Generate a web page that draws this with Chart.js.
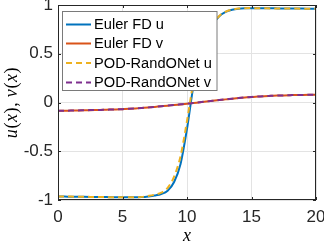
<!DOCTYPE html>
<html>
<head>
<meta charset="utf-8">
<script src="https://cdn.jsdelivr.net/npm/chart.js@4"></script>
<style>
  html, body { margin: 0; padding: 0; background: #ffffff; }
  #wrap { width: 324px; height: 243px; }
</style>
</head>
<body>
<div id="wrap"><canvas id="courbe" width="324" height="243"></canvas></div>
<script>
// x grid of the solution
const xs = [0, 0.5, 1, 1.5, 2, 2.5, 3, 3.5, 4, 4.5, 5, 5.5, 6, 6.5, 7, 7.5, 8, 8.5, 9, 9.5,
            10, 10.5, 11, 11.5, 12, 12.5, 13, 13.5, 14, 14.5, 15, 15.5, 16, 16.5, 17, 17.5, 18, 18.5, 19, 19.5, 20];

const eulerU = [-0.965, -0.965, -0.966, -0.966, -0.967, -0.968, -0.969, -0.970, -0.971, -0.972, -0.972, -0.973, -0.973, -0.970, -0.963, -0.953, -0.938, -0.905, -0.815, -0.63,
                -0.27, 0.17, 0.46, 0.66, 0.80, 0.885, 0.93, 0.952, 0.962, 0.966, 0.967, 0.967, 0.966, 0.966, 0.965, 0.964, 0.964, 0.963, 0.963, 0.962, 0.962];
const eulerV = [-0.086, -0.085, -0.083, -0.082, -0.080, -0.079, -0.077, -0.075, -0.073, -0.071, -0.068, -0.065, -0.061, -0.056, -0.051, -0.045, -0.039, -0.033, -0.026, -0.020,
                -0.013, -0.005, 0.002, 0.010, 0.018, 0.025, 0.032, 0.039, 0.045, 0.051, 0.057, 0.061, 0.065, 0.068, 0.071, 0.073, 0.075, 0.077, 0.078, 0.079, 0.080];
const podU = [-0.963, -0.964, -0.965, -0.966, -0.967, -0.968, -0.969, -0.970, -0.971, -0.971, -0.972, -0.972, -0.972, -0.968, -0.958, -0.945, -0.925, -0.875, -0.76, -0.55,
              -0.19, 0.21, 0.47, 0.665, 0.805, 0.888, 0.932, 0.953, 0.963, 0.967, 0.968, 0.967, 0.966, 0.965, 0.965, 0.964, 0.963, 0.963, 0.962, 0.962, 0.961];
const podV = [-0.085, -0.084, -0.083, -0.081, -0.080, -0.078, -0.077, -0.075, -0.073, -0.070, -0.068, -0.064, -0.060, -0.056, -0.050, -0.045, -0.039, -0.032, -0.026, -0.019,
              -0.012, -0.005, 0.003, 0.010, 0.018, 0.026, 0.033, 0.039, 0.046, 0.052, 0.057, 0.061, 0.065, 0.068, 0.071, 0.073, 0.075, 0.077, 0.078, 0.079, 0.081];

const labels = ['Euler FD u', 'Euler FD v', 'POD-RandONet u', 'POD-RandONet v'];
const xTicks = [0, 5, 10, 15, 20];
const yTicks = [-1, -0.5, 0, 0.5, 1];

const AXIS = '#262626';
const SANS = '"Liberation Sans", Arial, sans-serif';
const tickFont = { family: SANS, size: 17 };

function pts(values) {
    return xs.map((x, i) => ({ x: x, y: values[i] }));
}

function serie(label, values, color, dashed, order) {
    return {
        label: label,
        data: pts(values),
        borderColor: color,
        backgroundColor: color,
        borderWidth: 2,
        borderDash: dashed ? [6, 4] : [],
        pointRadius: 0,
        fill: false,
        cubicInterpolationMode: 'monotone',
        order: order
    };
}

// box, inward ticks, axis titles, legend (matlab style)
const matlabDecor = {
    id: 'matlabDecor',
    afterDatasetsDraw(chart) {
        const ctx = chart.ctx;
        const a = chart.chartArea;
        const sx = chart.scales.x;
        const sy = chart.scales.y;

        ctx.save();
        ctx.strokeStyle = AXIS;
        ctx.lineWidth = 1;
        ctx.strokeRect(Math.round(a.left) + 0.5, Math.round(a.top) + 0.5,
                       Math.round(a.right - a.left) - 1, Math.round(a.bottom - a.top) - 1);
        ctx.beginPath();
        xTicks.forEach(v => {
            const px = Math.round(sx.getPixelForValue(v)) + 0.5;
            ctx.moveTo(px, a.bottom); ctx.lineTo(px, a.bottom - 3);
            ctx.moveTo(px, a.top); ctx.lineTo(px, a.top + 3);
        });
        yTicks.forEach(v => {
            const py = Math.round(sy.getPixelForValue(v)) + 0.5;
            ctx.moveTo(a.left, py); ctx.lineTo(a.left + 3, py);
            ctx.moveTo(a.right, py); ctx.lineTo(a.right - 3, py);
        });
        ctx.stroke();

        // legend
        const lx = 62.5, ly = 11.5, lw = 154.5, lh = 79;
        ctx.fillStyle = '#ffffff';
        ctx.fillRect(lx, ly, lw, lh);
        ctx.strokeStyle = '#7a7a7a';
        ctx.strokeRect(lx, ly, lw, lh);
        // fit legend text to the width seen in the picture
        ctx.font = '14px ' + SANS;
        const legSize = 14 * 118 / ctx.measureText(labels[2]).width;
        const rows = [24.5, 43.5, 63, 82.5];
        chart.data.datasets.forEach((ds, i) => {
            ctx.beginPath();
            ctx.strokeStyle = ds.borderColor;
            ctx.lineWidth = 2;
            ctx.setLineDash(ds.borderDash);
            ctx.moveTo(66, rows[i]);
            ctx.lineTo(91, rows[i]);
            ctx.stroke();
            ctx.setLineDash([]);
            ctx.fillStyle = '#000000';
            ctx.font = legSize.toFixed(2) + 'px ' + SANS;
            ctx.textAlign = 'left';
            ctx.textBaseline = 'middle';
            ctx.fillText(ds.label, 94, rows[i] + 0.5);
        });

        // axis titles, latex-like: letters italic, punctuation upright
        ctx.fillStyle = '#000000';
        ctx.textBaseline = 'middle';
        const parts = [['u', 1], ['(', 0], ['x', 1], [')', 0], [', ', 0], ['v', 1], ['(', 0], ['x', 1], [')', 0]];
        const fItal = 'italic 18px "Liberation Serif"';
        const fUp = '18px "Liberation Serif"';
        let total = 0;
        parts.forEach(p => { ctx.font = p[1] ? fItal : fUp; total += ctx.measureText(p[0]).width + 0.6; });
        ctx.save();
        ctx.translate(12, (a.top + a.bottom) / 2);
        ctx.rotate(-Math.PI / 2);
        let cx = -total / 2;
        ctx.textAlign = 'left';
        parts.forEach(p => {
            ctx.font = p[1] ? fItal : fUp;
            ctx.fillText(p[0], cx, 0);
            cx += ctx.measureText(p[0]).width + 0.6;
        });
        ctx.restore();

        ctx.font = fItal;
        ctx.textAlign = 'center';
        ctx.fillText('x', (a.left + a.right) / 2, 236);
        ctx.restore();
    }
};

const ctx = document.getElementById('courbe').getContext('2d');
const myChart = new Chart(ctx, {
    type: 'line',
    data: {
        datasets: [
            serie(labels[0], eulerU, '#0072BD', false, 4),
            serie(labels[1], eulerV, '#D95319', false, 3),
            serie(labels[2], podU, '#EDB120', true, 2),
            serie(labels[3], podV, '#7E2F8E', true, 1)
        ]
    },
    options: {
        responsive: false,
        devicePixelRatio: 1,
        animation: false,
        layout: { padding: { left: 0, right: 8, top: 5, bottom: 0 } },
        plugins: {
            legend: { display: false },
            tooltip: { enabled: false }
        },
        scales: {
            x: {
                type: 'linear',
                min: 0,
                max: 20,
                afterBuildTicks(scale) { scale.ticks = xTicks.map(v => ({ value: v })); },
                afterFit(scale) { scale.height = 43; scale.paddingLeft = 0; scale.paddingRight = 0; },
                ticks: { color: AXIS, font: tickFont, padding: 7, maxRotation: 0, autoSkip: false },
                grid: { color: '#e3e3e3', drawTicks: false },
                border: { display: false }
            },
            y: {
                type: 'linear',
                min: -1,
                max: 1,
                afterBuildTicks(scale) { scale.ticks = yTicks.map(v => ({ value: v })); },
                afterFit(scale) { scale.width = 58; scale.paddingTop = 0; scale.paddingBottom = 0; },
                ticks: { color: AXIS, font: tickFont, padding: 5, callback: v => String(v) },
                grid: { color: '#e3e3e3', drawTicks: false },
                border: { display: false }
            }
        }
    },
    plugins: [matlabDecor]
});
</script>
</body>
</html>
